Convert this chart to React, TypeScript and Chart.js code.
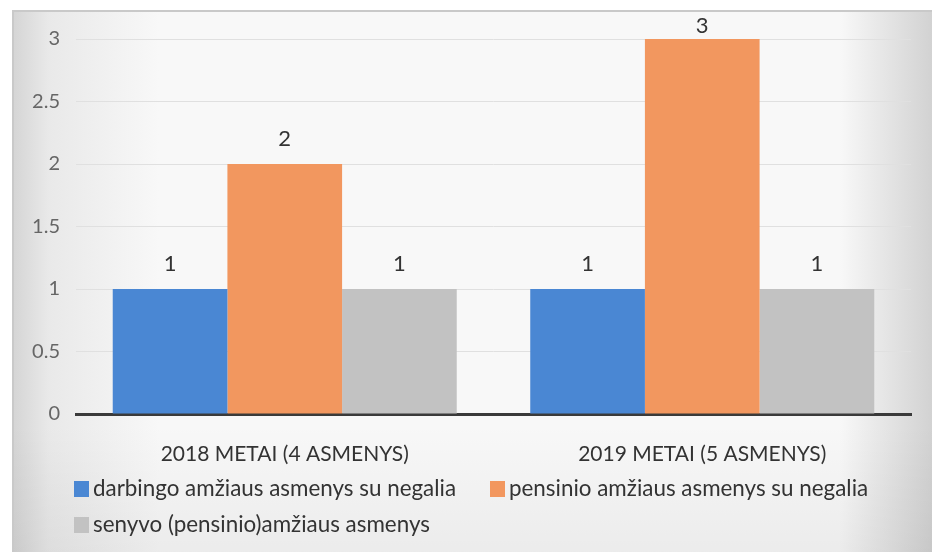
import React, { useEffect, useRef } from "react";
import { Chart, registerables } from "chart.js";

Chart.register(...registerables);

// ---- data ----
const categories = ["2018 METAI (4 ASMENYS)", "2019 METAI (5 ASMENYS)"];
const seriesNames = [
  "darbingo amžiaus asmenys su negalia",
  "pensinio amžiaus asmenys su negalia",
  "senyvo (pensinio)amžiaus asmenys",
];
const darbingo = [1, 1];
const pensinio = [2, 3];
const senyvo = [1, 1];
const yTickValues = [0, 0.5, 1, 1.5, 2, 2.5, 3];

// ---- styles ----
const seriesColors = ["#4a87d3", "#f2975f", "#c2c2c2"];
const FONT = "Lato, 'Open Sans', sans-serif";
const W = 932;
const H = 552;

const backgroundPlugin = {
  id: "bgPaper",
  beforeDraw(chart: any) {
    const ctx = chart.ctx;
    ctx.save();
    ctx.fillStyle = "#ffffff";
    ctx.fillRect(0, 0, W, H);
    const g = ctx.createLinearGradient(12, 0, W, 0);
    g.addColorStop(0, "#d4d4d4");
    g.addColorStop(0.04, "#e9e9e9");
    g.addColorStop(0.16, "#f8f8f8");
    g.addColorStop(0.9, "#f8f8f8");
    g.addColorStop(1, "#d2d2d2");
    ctx.fillStyle = g;
    ctx.fillRect(12, 10, W - 12, H - 10);
    const g2 = ctx.createLinearGradient(0, 425, 0, H);
    g2.addColorStop(0, "rgba(0,0,0,0)");
    g2.addColorStop(1, "rgba(0,0,0,0.05)");
    ctx.fillStyle = g2;
    ctx.fillRect(12, 425, W - 12, H - 425);
    ctx.strokeStyle = "#c9c9c9";
    ctx.lineWidth = 2;
    ctx.beginPath();
    ctx.moveTo(12, 11);
    ctx.lineTo(W, 11);
    ctx.moveTo(13, 10);
    ctx.lineTo(13, H);
    ctx.stroke();
    ctx.restore();
  },
};

const valueLabelPlugin = {
  id: "valueLabels",
  afterDatasetsDraw(chart: any) {
    const ctx = chart.ctx;
    ctx.save();
    ctx.font = `22px ${FONT}`;
    ctx.fillStyle = "#333333";
    ctx.textAlign = "center";
    ctx.textBaseline = "middle";
    chart.data.datasets.forEach((ds: any, i: number) => {
      const meta = chart.getDatasetMeta(i);
      meta.data.forEach((el: any, j: number) => {
        const y = Math.max(el.y - 25, 26);
        ctx.fillText(String(ds.data[j]), el.x, y);
      });
    });
    ctx.restore();
  },
};

const legendSlots = [
  { x: 74, y: 489 },
  { x: 490, y: 489 },
  { x: 74, y: 525 },
];

const customLegendPlugin = {
  id: "customLegend",
  afterDraw(chart: any) {
    const ctx = chart.ctx;
    ctx.save();
    ctx.font = `22.4px ${FONT}`;
    ctx.textAlign = "left";
    ctx.textBaseline = "middle";
    chart.data.datasets.forEach((ds: any, i: number) => {
      const s = legendSlots[i];
      ctx.fillStyle = ds.backgroundColor;
      ctx.fillRect(s.x, s.y - 8, 15, 16);
      ctx.fillStyle = "#333333";
      ctx.fillText(ds.label, s.x + 19, s.y);
    });
    ctx.restore();
  },
};

export default function App() {
  const ref = useRef<HTMLCanvasElement | null>(null);

  useEffect(() => {
    document.body.style.margin = "0";
    const canvas = ref.current;
    if (!canvas) return;
    const chart = new Chart(canvas, {
      type: "bar",
      data: {
        labels: categories,
        datasets: [
          { label: seriesNames[0], data: darbingo, backgroundColor: seriesColors[0] },
          { label: seriesNames[1], data: pensinio, backgroundColor: seriesColors[1] },
          { label: seriesNames[2], data: senyvo, backgroundColor: seriesColors[2] },
        ],
      },
      options: {
        responsive: false,
        animation: false,
        devicePixelRatio: 1,
        layout: { padding: { top: 39, right: 21, bottom: 80, left: 0 } },
        datasets: {
          bar: { categoryPercentage: 0.824, barPercentage: 1, borderWidth: 0 },
        },
        plugins: {
          legend: { display: false },
          tooltip: { enabled: false },
          title: { display: false },
        },
        scales: {
          x: {
            z: 1,
            afterFit: (scale: any) => {
              scale.height = 58;
            },
            grid: { display: false, drawTicks: false },
            border: { display: true, color: "#3a3a3a", width: 3 },
            ticks: {
              padding: 28,
              maxRotation: 0,
              minRotation: 0,
              color: "#333333",
              font: { family: FONT, size: 21 },
            },
          },
          y: {
            min: 0,
            max: 3,
            afterBuildTicks: (scale: any) => {
              scale.ticks = yTickValues.map((v) => ({ value: v }));
            },
            afterFit: (scale: any) => {
              scale.width = 76;
            },
            grid: { color: "#e0e0e0", lineWidth: 1, drawTicks: false },
            border: { display: false },
            ticks: {
              padding: 16,
              color: "#666666",
              font: { family: FONT, size: 20 },
              callback: (v: any) => String(v),
            },
          },
        },
      },
      plugins: [backgroundPlugin, valueLabelPlugin, customLegendPlugin],
    });
    return () => chart.destroy();
  }, []);

  return (
    <div style={{ position: "absolute", left: 0, top: 0, width: W, height: H }}>
      <canvas ref={ref} width={W} height={H} style={{ display: "block", width: W, height: H }} />
    </div>
  );
}
